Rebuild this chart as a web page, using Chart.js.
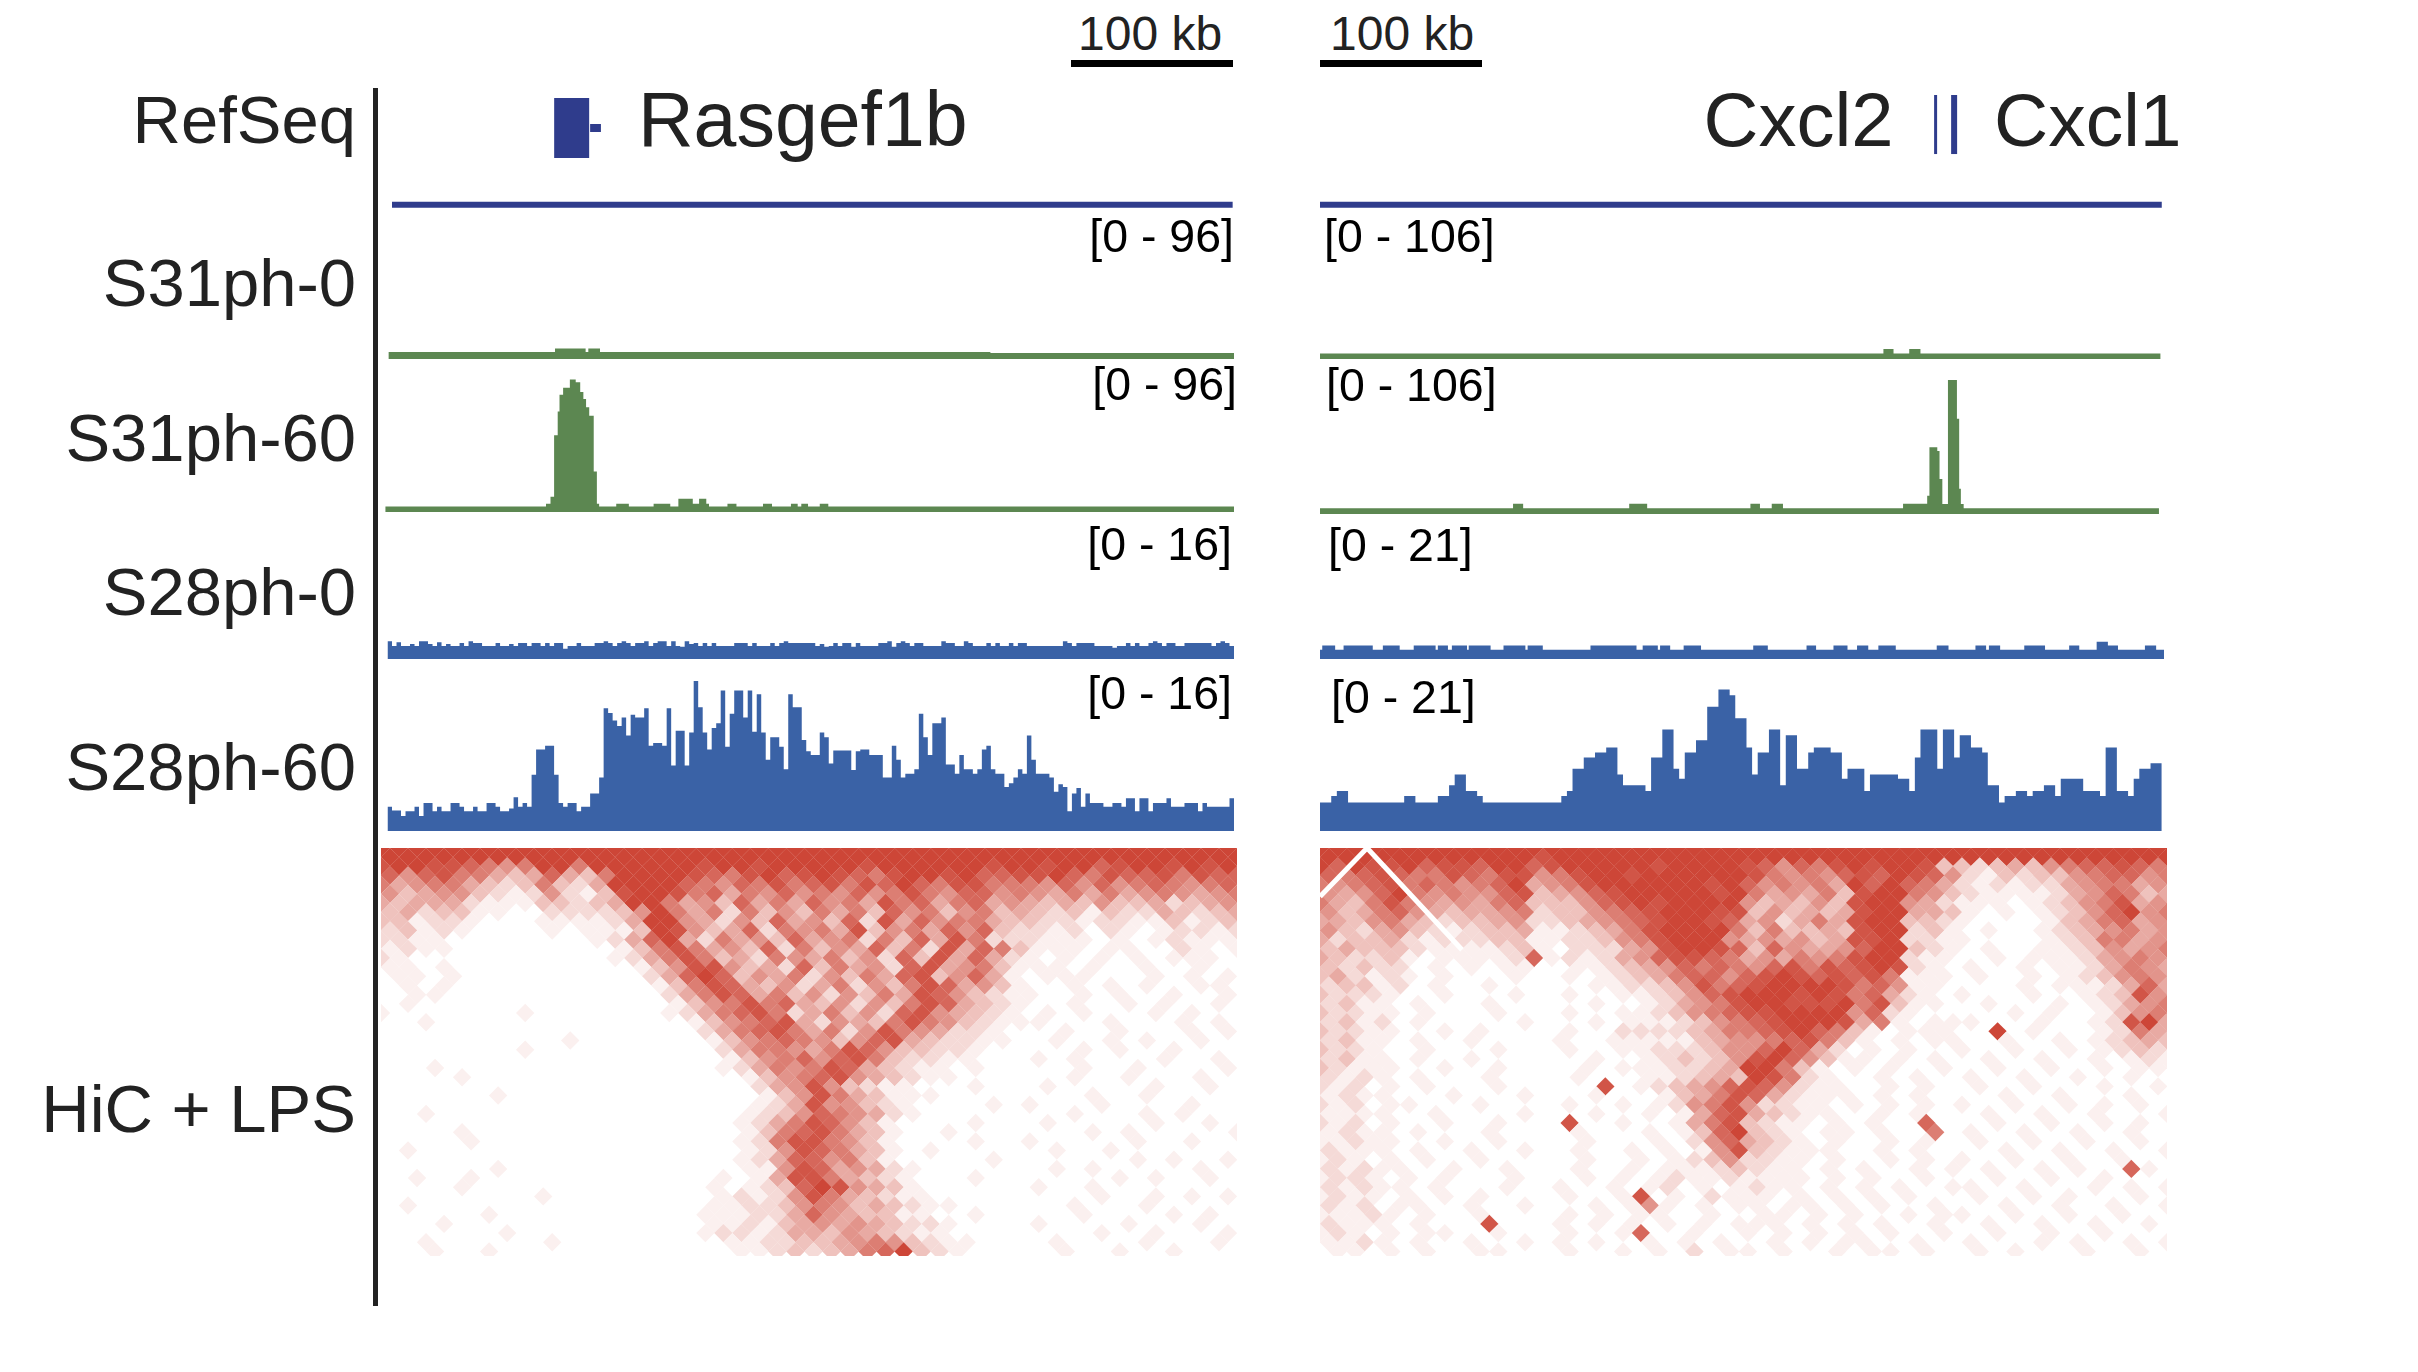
<!DOCTYPE html>
<html>
<head>
<meta charset="utf-8">
<title>Rasgef1b Cxcl2 Cxcl1 tracks</title>
<script src="https://cdn.jsdelivr.net/npm/chart.js@4"></script>
<style>
  body { margin: 0; background: #fff; width: 2418px; height: 1372px; overflow: hidden; position: relative; font-family: "Liberation Sans", sans-serif; }
  canvas { position: absolute; }
  .txt { position: absolute; white-space: nowrap; line-height: 1; }
  .rule { position: absolute; }
</style>
</head>
<body>
<script>
// track values, left locus is in 188 bins, right locus in 150 bins
var s31ph0LeftX = [0.2, 37.2, 44, 44.6, 47.2, 133.9, 188.5];
var s31ph0LeftY = [5, 7.5, 5, 7.5, 5, 4.3, 4.3];
var s31ph60LeftX = [-0.5, 35.2, 36.2, 37, 37.8, 38.2, 39, 40.5, 41.8, 42.8, 43.5, 44.1, 44.8, 45.8, 46.5, 47, 50.8, 53.6, 59.1, 62.8, 64.6, 67.8, 69.2, 70.8, 71.4, 75.5, 77.5, 83.4, 85.4, 89.6, 91.1, 91.9, 93.4, 96, 97.9, 188.2];
var s31ph60LeftY = [4, 6, 11, 55, 72, 84, 89, 95, 93, 86, 81, 75, 69, 29, 6, 4, 6, 4, 6, 4, 9.5, 6, 9.5, 6, 4, 6, 4, 6, 4, 6, 4, 6, 4, 6, 4, 4];
var s28ph0Left = [1.9,1.4,1.8,1.4,1.4,1.6,1.4,1.9,1.9,1.6,1.4,1.8,1.4,1.6,1.4,1.4,1.7,1.4,1.9,1.7,1.7,1.4,1.4,1.4,1.7,1.4,1.4,1.6,1.4,1.7,1.7,1.4,1.7,1.7,1.4,1.7,1.4,1.7,1.7,1.1,1.4,1.4,1.7,1.4,1.4,1.4,1.7,1.7,1.9,1.7,1.4,1.7,1.9,1.7,1.4,1.7,1.7,1.9,1.4,1.7,1.9,1.9,1.4,1.9,1.4,1.3,1.9,1.6,1.7,1.4,1.7,1.4,1.7,1.4,1.4,1.4,1.4,1.7,1.7,1.7,1.4,1.7,1.4,1.4,1.4,1.7,1.4,1.7,1.9,1.7,1.7,1.7,1.7,1.7,1.7,1.4,1.6,1.3,1.4,1.7,1.4,1.7,1.7,1.3,1.7,1.4,1.4,1.4,1.4,1.7,1.7,1.9,1.3,1.7,1.9,1.7,1.4,1.7,1.7,1.4,1.4,1.4,1.4,1.9,1.7,1.7,1.4,1.4,1.9,1.7,1.4,1.4,1.4,1.7,1.4,1.7,1.4,1.4,1.7,1.4,1.7,1.7,1.4,1.4,1.4,1.4,1.4,1.4,1.4,1.4,1.9,1.7,1.4,1.7,1.7,1.7,1.7,1.4,1.4,1.4,1.4,1.2,1.4,1.4,1.7,1.4,1.7,1.4,1.4,1.7,1.9,1.7,1.4,1.7,1.7,1.4,1.4,1.7,1.7,1.7,1.7,1.7,1.7,1.4,1.7,1.9,1.7,1.4,1.7,1.7,1.7,1.7];
var s28ph60Left = [2.6,2.2,2.2,1.6,2.1,2.1,2.6,1.6,3,3,2.1,2.6,2.1,2.1,3,3,2.6,2.1,2.1,2.6,2.1,2.1,3,3,2.6,2.1,2.1,2.4,3.6,2.6,3,2.6,6,8.7,8.7,9.1,9.1,6,3,2.6,3,3,2.1,2.6,2.6,4,4,5.7,13.1,12.6,11.8,11.2,12.1,10.2,12.4,12.1,12.1,13.1,9.1,9.4,9.4,9.1,13.1,7,10.7,10.7,7,10.5,16,13.2,10.5,8.7,11,11.5,15,9,12.5,15,15,12.1,15,10.6,14.6,10.5,7.6,10,10,9,6.6,14.6,13.2,13.2,9.7,8.5,8.1,8.1,10.5,10,7.2,8.6,8.6,8.6,8.6,6.5,8.5,8.7,8.7,8.1,8.1,8.1,5.7,5.7,9.1,7.6,5.7,6.1,6.1,6.6,12.5,10,8.1,11.5,11.5,12.1,7.1,7.1,6.1,8.1,6.6,6.6,6.1,6.6,8.7,9.1,6.6,6.1,6.1,4.7,5.1,5.7,6.6,6.1,10.2,7.6,6.1,6.1,6.1,5.7,4.2,5,4.7,2.1,4,4.6,2.6,4,3,3,3,2.6,2.6,3,3,2.6,3.5,3.5,2.1,3.5,3.5,2.1,3,3,3,3.5,2.6,2.6,2.6,3,3,3,2.1,3,2.6,2.6,2.6,2.6,2.6,3.5];
var s31ph0RightX = [0, 100.4, 102.2, 105, 107, 149.8];
var s31ph0RightY = [4.3, 8, 4.3, 8, 4.3, 4.3];
var s31ph60RightX = [0, 34.4, 36.2, 55.1, 58.3, 76.7, 78.4, 80.5, 82.5, 103.9, 108.2, 108.6, 110, 110.4, 110.9, 111.9, 113.5, 113.9, 114.2, 114.7, 149.5];
var s31ph60RightY = [4.6, 8.2, 4.6, 8.2, 4.6, 8.2, 4.6, 8.2, 4.6, 8.2, 14.4, 52.8, 49.9, 27.6, 8, 106, 75.4, 20, 8, 4.6, 4.6];
var s28ph0RightX = [0, 0.4, 2.7, 4.2, 9.4, 11.2, 14.2, 16.7, 20.6, 21, 22.8, 23.5, 26.2, 26.5, 30.4, 32.7, 36.6, 37, 39.7, 48.2, 56.4, 57.5, 60.2, 60.6, 62.4, 64.8, 67.9, 77.2, 79.8, 86.7, 88.4, 91.5, 94, 95.7, 97.7, 99.5, 102.6, 109.9, 112, 116.8, 118.7, 119.2, 121.2, 125.5, 129.2, 133.5, 135.3, 138.4, 140.4, 142.2, 147, 149, 150.4];
var s28ph0RightY = [1.3, 1.9, 1.3, 1.9, 1.3, 1.9, 1.3, 1.9, 1.3, 1.9, 1.3, 1.9, 1.3, 1.9, 1.3, 1.9, 1.3, 1.9, 1.3, 1.9, 1.3, 1.9, 1.3, 1.9, 1.3, 1.9, 1.3, 1.9, 1.3, 1.9, 1.3, 1.9, 1.3, 1.9, 1.3, 1.9, 1.3, 1.9, 1.3, 1.9, 1.3, 1.9, 1.3, 1.9, 1.3, 1.9, 1.3, 2.4, 1.9, 1.3, 1.9, 1.3, 1.3];
var s28ph60Right = [4,4,4.9,5.6,5.6,4,4,4,4,4,4,4,4,4,4,4.9,4.9,4,4,4,4,4.9,4.9,6.4,7.9,7.9,5.6,5.6,4.9,4,4,4,4,4,4,4,4,4,4,4,4,4,4,4.9,5.6,8.7,8.7,10.3,10.3,11,11,11.7,11.7,7.9,6.4,6.4,6.4,6.4,5.6,10.3,10.3,14.2,14.2,8.7,7.3,11,11,12.7,12.7,17.4,17.4,19.8,19.8,19,15.8,15.8,11.7,7.9,11,11,14.2,14.2,6.4,13.4,13.4,8.7,8.7,11,11.7,11.7,11.7,11,11,7.3,8.7,8.7,8.7,5.6,7.9,7.9,7.9,7.9,7.9,7.3,7.3,5.6,10.3,14.2,14.2,14.2,8.7,14.2,14.2,10.3,13.4,13.4,11.7,11.7,11,6.4,6.4,4,4.9,4.9,5.6,5.6,4.9,5.6,5.6,6.4,6.4,4.9,7.3,7.3,7.3,7.3,5.6,5.6,5.6,4.9,11.7,11.7,5.6,5.6,4.9,7.3,8.7,8.7,9.5,9.5];

// RefSeq track, gene exons given as bin and relative height
var rasgefExonX = [40.9, 40.9];
var rasgefExonY = [0.449, 0.921];
var rasgefStubX = [45, 47.4];
var rasgefStubY = [0.685, 0.685];
var cxcl2ExonX = [109.7, 109.7];
var cxcl1ExonX = [113, 113];
var cxclExonY = [0.48, 0.945];
var refLineLeftX = [1, 187.7];
var refLineRightX = [0, 150];
var refLineY = [0.08, 0.08];

// contact maps, one digit per diamond cell (0 white, 9 full red), rows go away from the top edge
var hicLeft = [
"999999999999 999999999999 999999999999 999999999999",
"999999999999 999999999999 999999999999 999999999999",
"899887656996 999999899899 999899999989 989978998989",
"757866434743 699998768978 987689989778 897687786877",
"645664323632 499997657686 786879768866 657575676567",
"534553212521 389986746575 657568657756 546464565456",
"434442111332 349964537464 756486746745 434353342345",
"342331100222 235964626353 646375635634 323132243234",
"331221000111 124995425374 537284756643 322122113123",
"231210000101 113985347265 648356475732 212021012212",
"221100000000 124794264537 456263748622 211101012111",
"121100000000 013686453726 354736284763 111011002101",
"210000000000 012468634265 463527384742 101010101110",
"110100000000 001358853427 364527845631 110100100100",
"011010000000 000247973546 253647835741 011100010101",
"010100000000 000136874352 462536874531 001010100110",
"001100000000 000024687463 525364875321 100101001001",
"010000000000 000013568674 352536874321 001001010010",
"100000001000 000012467862 463527854321 010100010100",
"001000000000 000001356784 254368653211 100010001010",
"000000000000 000000246786 462586542210 001001000101",
"000000000010 000000135676 535784322110 010010100100",
"000000001000 000000024665 468753322100 000101001000",
"000000000000 000000013567 578632211000 101000010010",
"000100000000 000000012465 687432110100 000100100001",
"000010000000 000000001356 785432110000 001001000100",
"000000000000 000000000245 853211000100 010000010010",
"000000100000 000000000135 864311100000 000100100000",
"000000000000 000000000124 855321000010 100010000100",
"001000000000 000000001235 765421000000 001000101000",
"000000000000 000000001246 875310000100 010000010010",
"000010000000 000000001367 864310010000 000101000001",
"000001000000 000000001268 865310000100 100000100100",
"010000000000 000000001258 764310100000 010010000000",
"000000000000 000000001247 756310000010 000000101001",
"000000100000 000000001158 745421000000 010100000100",
"001001000000 000000010148 864321000100 000001010010",
"000010000000 000000101237 985431000000 100100000000",
"000000000100 000000012125 864321100000 000010010101",
"010000000000 000000112235 653432110000 001000100000",
"000000100000 000000111224 754331100100 000100001010",
"000100000000 000000112134 545432210000 100001000100",
"000000010000 000000122124 435432110000 000010010001",
"001000000100 000000011223 345653211000 010000100010",
"000100100000 000000001123 234679321000 001001001000"
];
var hicRight = [
"999999999999 999999999999 999999999999 999999999999",
"999999999999 899999999999 999999999999 999999999999",
"979889788799 789999989999 875768989983 323435677876",
"767876687688 568998999999 865657879875 213233567756",
"656786765679 456899999989 756564979764 212122456645",
"545796565578 345789999989 645463899653 211112457634",
"643686545467 333578989999 534353899542 111012356845",
"534675434456 233567899988 353434899443 101012357956",
"443564323345 223456789987 452464899332 100001346745",
"532453212334 112346899996 363343899231 010012345645",
"423342122233 112235689995 454534889221 100001236645",
"343332111123 102224589987 375445799321 010011235456",
"432231011112 712124578876 454656899211 001011124565",
"323220101011 001123457676 578687898210 100101124654",
"342121010001 001012346775 789878786111 010010123565",
"233120100100 000112235867 899998675110 000101112474",
"322210010001 001001123578 999898674210 100010012385",
"231101000100 000100124568 998889683110 010001012456",
"322110100010 001001123567 889999572100 000101001356",
"231201000001 000101112356 789998461011 100010012894",
"322110010100 001002222346 678976310111 009010001264",
"231101001000 010011111345 567863101011 001001012343",
"322100100010 001001122235 579742010100 100100101232",
"231101001000 000100123235 897531101010 010010010121",
"321110010010 000101112234 996310101001 001001001011",
"212101000100 001000112343 986210010100 100100100100",
"212010100010 000080123457 875211001010 010010001001",
"121100010001 000100013468 742111010100 001001000100",
"212011000100 001001012568 522110101010 100100101010",
"111100100001 000100101478 432110010100 010010010001",
"212010010010 008001001468 321101010070 001001001010",
"121101000100 001000101379 321011010060 100100100100",
"112110010010 000100010257 432101001010 010010010010",
"211101001001 001001010158 321110010100 001001001001",
"121010100100 000100101235 221101001010 100100100100",
"212110010010 001001011123 211010100101 010010100710",
"122101010001 000101012112 111101010010 001001001000",
"212110100010 010010120101 211010101001 100100010101",
"121101010100 001001801021 110101010100 010010100010",
"212011001001 000101510101 101101010010 001001001001",
"111210100100 001010110010 011010100101 100100100100",
"211101000800 010101010101 110101010010 010010010010",
"121010110010 001001700100 101010101001 001001001000",
"112101001001 010100101010 010101100100 100010100101",
"011010100110 001001010201 101001011010 010100010010"
];
var hicWhiteX = [0, 2.64, 7.96];
var hicWhiteY = [5.3, 0, 11.1];

var GREEN = '#5c8751', BLUE = '#3a62a6', NAVY = '#2f3c8c', RED = [205, 70, 55];
var HIC_RAMP = [0, 0.08, 0.2, 0.33, 0.46, 0.58, 0.7, 0.82, 0.92, 1];

function zip(xs, ys) {
  return xs.map(function (x, i) { return { x: x, y: ys[i] }; });
}

function bins(vals) {
  var pts = vals.map(function (v, i) { return { x: i, y: v }; });
  pts.push({ x: vals.length, y: vals[vals.length - 1] });
  return pts;
}

function newChart(left, top, w, h, datasets, xMin, xMax, yMin, yMax, flipY) {
  var c = document.createElement('canvas');
  c.width = w; c.height = h;
  c.style.left = left + 'px'; c.style.top = top + 'px';
  c.style.width = w + 'px'; c.style.height = h + 'px';
  document.body.appendChild(c);
  return new Chart(c.getContext('2d'), {
    data: { datasets: datasets },
    options: {
      responsive: false,
      animation: false,
      devicePixelRatio: 1,
      events: [],
      layout: { padding: 0, autoPadding: false },
      plugins: { legend: { display: false }, tooltip: { enabled: false } },
      scales: {
        x: { type: 'linear', display: false, min: xMin, max: xMax },
        y: { type: 'linear', display: false, min: yMin, max: yMax, reverse: !!flipY }
      }
    }
  });
}

function stepSet(pts, color) {
  return { type: 'line', data: pts, stepped: true, fill: 'origin', backgroundColor: color, borderWidth: 0, pointRadius: 0 };
}

function segSet(pts, color, width) {
  return { type: 'line', data: pts, borderColor: color, borderWidth: width, pointRadius: 0, fill: false, order: -1 };
}

function hicSet(rows) {
  var pts = [], colors = [];
  rows.forEach(function (row, r) {
    row.replace(/ /g, '').split('').forEach(function (d, c) {
      var v = +d;
      if (!v) return;
      var t = HIC_RAMP[v];
      pts.push({ x: c + (r % 2 ? 0.5 : 0), y: r });
      colors.push('rgb(' + RED.map(function (k) { return Math.round(255 + (k - 255) * t); }).join(',') + ')');
    });
  });
  return { type: 'scatter', data: pts, pointStyle: 'rectRot', pointRadius: 9.2, pointBorderWidth: 0, backgroundColor: colors, borderWidth: 0 };
}

function track(panel, bottom, height, pts, color, yMax) {
  var xb = panel === 'L' ? [383, 851, -1, 188] : [1320, 844, 0, 150.4];
  newChart(xb[0], bottom - height, xb[1], height, [stepSet(pts, color)], xb[2], xb[3], 0, yMax);
}

function label(text, x, baseline, size, align, color) {
  var d = document.createElement('div');
  d.className = 'txt';
  d.textContent = text;
  d.style.fontSize = size + 'px';
  d.style.color = color || '#222';
  d.style.top = (baseline - 0.8465 * size) + 'px';
  if (align === 'right') d.style.right = (2418 - x) + 'px'; else d.style.left = x + 'px';
  document.body.appendChild(d);
}

function rule(x, y, w, h, color) {
  var d = document.createElement('div');
  d.className = 'rule';
  d.style.cssText = 'left:' + x + 'px;top:' + y + 'px;width:' + w + 'px;height:' + h + 'px;background:' + color;
  document.body.appendChild(d);
}

// RefSeq
newChart(383, 88, 851, 127, [
  segSet(zip(refLineLeftX, refLineY), NAVY, 6),
  segSet(zip(rasgefExonX, rasgefExonY), NAVY, 35),
  segSet(zip(rasgefStubX, rasgefStubY), NAVY, 8)
], -1, 188, 0, 1);
newChart(1320, 88, 844, 127, [
  segSet(zip(refLineRightX, refLineY), NAVY, 6),
  segSet(zip(cxcl2ExonX, cxclExonY), NAVY, 3),
  segSet(zip(cxcl1ExonX, cxclExonY), NAVY, 6)
], 0, 150.4, 0, 1);

// signal tracks
track('L', 359, 134, zip(s31ph0LeftX, s31ph0LeftY), GREEN, 96);
track('L', 512, 134, zip(s31ph60LeftX, s31ph60LeftY), GREEN, 96);
track('L', 659.4, 150, bins(s28ph0Left), BLUE, 16);
track('L', 831, 150, bins(s28ph60Left), BLUE, 16);
track('R', 358.5, 134, zip(s31ph0RightX, s31ph0RightY), GREEN, 106);
track('R', 513.5, 134, zip(s31ph60RightX, s31ph60RightY), GREEN, 106);
track('R', 659.4, 150, zip(s28ph0RightX, s28ph0RightY), BLUE, 21);
track('R', 831, 150, bins(s28ph60Right), BLUE, 21);

// contact maps
newChart(381, 848, 856, 408, [hicSet(hicLeft)], 0, 47.5, 0, 44.5, true);
newChart(1320, 848, 847, 408, [
  hicSet(hicRight),
  segSet(zip(hicWhiteX, hicWhiteY), '#fff', 5)
], 0, 47.5, 0, 44.5, true);

// frame and text
rule(373, 88, 5, 1218, '#222');
rule(1071, 60, 162, 7, '#000');
rule(1320, 60, 162, 7, '#000');
label('100 kb', 1078, 51, 48);
label('100 kb', 1330, 51, 48);
label('RefSeq', 356, 143, 67, 'right');
label('S31ph-0', 356, 306, 67, 'right');
label('S31ph-60', 356, 461, 67, 'right');
label('S28ph-0', 356, 615, 67, 'right');
label('S28ph-60', 356, 790, 67, 'right');
label('HiC + LPS', 356, 1132, 67, 'right');
label('Rasgef1b', 638, 146, 77);
label('Cxcl2', 1703.5, 146, 76);
label('Cxcl1', 1994, 146, 75);
label('[0 - 96]', 1234, 252, 46.5, 'right', '#000');
label('[0 - 96]', 1237, 400, 46.5, 'right', '#000');
label('[0 - 16]', 1232, 560, 46.5, 'right', '#000');
label('[0 - 16]', 1232, 709, 46.5, 'right', '#000');
label('[0 - 106]', 1324, 252, 46.5, 'left', '#000');
label('[0 - 106]', 1326, 401, 46.5, 'left', '#000');
label('[0 - 21]', 1328, 561, 46.5, 'left', '#000');
label('[0 - 21]', 1331, 713, 46.5, 'left', '#000');
</script>
</body>
</html>
